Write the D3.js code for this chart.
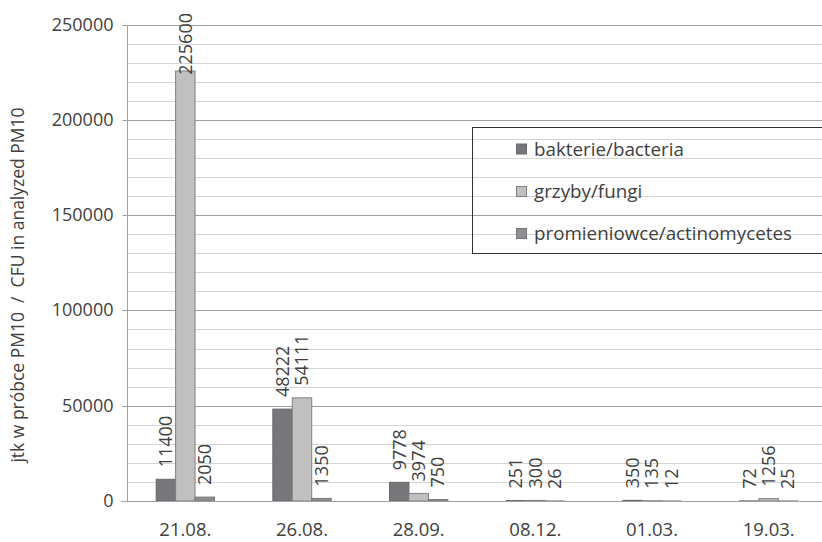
<!DOCTYPE html>
<html>
<head>
<meta charset="utf-8">
<script src="https://cdn.jsdelivr.net/npm/d3@7"></script>
<style>
  html, body { margin: 0; padding: 0; background: #fff; }
  svg { display: block; }
  text { font-family: "Open Sans", sans-serif; fill: #404040; }
</style>
</head>
<body>
<svg id="chart" width="822" height="542"></svg>
<script>
// Sampling dates
const categories = ["21.08.", "26.08.", "28.09.", "08.12.", "01.03.", "19.03."];
// CFU counts per series
const bacteria = [11400, 48222, 9778, 251, 350, 72];
const fungi = [225600, 54111, 3974, 300, 135, 1256];
const actinomycetes = [2050, 1350, 750, 26, 12, 25];
const seriesNames = ["bakterie/bacteria", "grzyby/fungi", "promieniowce/actinomycetes"];
const seriesColors = ["#77777b", "#c0c0c0", "#8e8e92"];
const seriesStroke = ["#6a6a6e", "#808080", "#77777b"];
const yTicks = [0, 50000, 100000, 150000, 200000, 250000];
const yTitle = "jtk w próbce PM10  /  CFU in analyzed PM10";

const series = [bacteria, fungi, actinomycetes];

const svg = d3.select("#chart");
const plotLeft = 127, plotRight = 827, plotTop = 24.5, plotBottom = 501;

const x = d3.scaleBand().domain(categories).range([plotLeft, plotRight])
  .paddingInner(0.5).paddingOuter(0.25);
const xs = d3.scaleBand().domain(d3.range(series.length)).range([0, x.bandwidth()]);
const y = d3.scaleLinear().domain([0, 250000]).range([plotBottom, plotTop]);

// minor gridlines
const minor = d3.range(10000, 250001, 10000).filter(v => v % 50000 !== 0);
svg.append("g").selectAll("line").data(minor).join("line")
  .attr("x1", plotLeft).attr("x2", 822)
  .attr("y1", d => Math.round(y(d)) + 0.5).attr("y2", d => Math.round(y(d)) + 0.5)
  .attr("stroke", "#d4d4d4").attr("stroke-width", 1);

// y axis with major gridlines
const yAxis = d3.axisLeft(y).tickValues(yTicks).tickSize(0).tickPadding(14)
  .tickFormat(d3.format("d"));
const gy = svg.append("g").attr("transform", `translate(${plotLeft + 0.5},0)`).call(yAxis);
gy.select(".domain").remove();
gy.selectAll(".tick").attr("transform", d => `translate(0,${Math.round(y(d)) + 0.5})`);
gy.selectAll(".tick line").attr("x1", -5).attr("x2", 822 - plotLeft).attr("stroke", "#a0a0a0");
gy.selectAll(".tick text").attr("x", -14).style("font-size", "18px")
  .style("font-family", "'Open Sans', sans-serif").attr("fill", "#404040");

// y axis line
svg.append("line").attr("x1", plotLeft + 0.5).attr("x2", plotLeft + 0.5)
  .attr("y1", Math.round(y(250000)) + 0.5).attr("y2", plotBottom + 0.5).attr("stroke", "#a0a0a0");

// bars
const groups = svg.append("g").selectAll("g").data(categories).join("g")
  .attr("transform", d => `translate(${x(d)},0)`);

groups.each(function(cat, ci) {
  const g = d3.select(this);
  series.forEach((vals, si) => {
    const v = vals[ci];
    g.append("rect")
      .attr("x", xs(si)).attr("width", xs.bandwidth())
      .attr("y", y(v)).attr("height", Math.max(0, plotBottom - y(v)))
      .attr("fill", seriesColors[si])
      .attr("stroke", seriesStroke[si]).attr("stroke-width", 1);
  });
});

// value labels, rotated
const fontSize = 18;
groups.each(function(cat, ci) {
  const g = d3.select(this);
  series.forEach((vals, si) => {
    const v = vals[ci];
    const cx = xs(si) + xs.bandwidth() / 2;
    const t = g.append("text")
      .attr("transform", `translate(${cx},${y(v) - 12}) rotate(-90)`)
      .attr("dy", "0.35em")
      .style("font-size", fontSize + "px")
      .text(v);
    const len = t.node().getComputedTextLength();
    // keep label inside the drawing area
    if (y(v) - 12 - len < 13) {
      t.attr("transform", `translate(${cx},${13 + len}) rotate(-90)`);
    }
  });
});

// x axis baseline
svg.append("line").attr("x1", plotLeft - 6).attr("x2", 822)
  .attr("y1", plotBottom + 0.5).attr("y2", plotBottom + 0.5).attr("stroke", "#a0a0a0");

// category labels
svg.append("g").selectAll("text").data(categories).join("text")
  .attr("x", d => x(d) + x.bandwidth() / 2)
  .attr("y", 536)
  .attr("text-anchor", "middle")
  .style("font-size", "18.5px")
  .text(d => d);

// y title
svg.append("text")
  .attr("transform", `translate(18,285) rotate(-90)`)
  .attr("text-anchor", "middle").attr("dy", "0.35em")
  .style("font-size", "17.5px")
  .style("white-space", "pre")
  .text(yTitle);

// legend
const lg = svg.append("g");
lg.append("rect").attr("x", 472.5).attr("y", 127.5).attr("width", 360).attr("height", 126)
  .attr("fill", "none").attr("stroke", "#333").attr("stroke-width", 1);
const rowY = [149, 191.5, 233.5];
seriesNames.forEach((name, i) => {
  lg.append("rect").attr("x", 516.5).attr("y", rowY[i] - 5).attr("width", 10).attr("height", 10)
    .attr("fill", seriesColors[i]).attr("stroke", seriesStroke[i]);
  lg.append("text").attr("x", 534).attr("y", rowY[i]).attr("dy", "0.35em")
    .style("font-size", "18.8px").text(name);
});
</script>
</body>
</html>
